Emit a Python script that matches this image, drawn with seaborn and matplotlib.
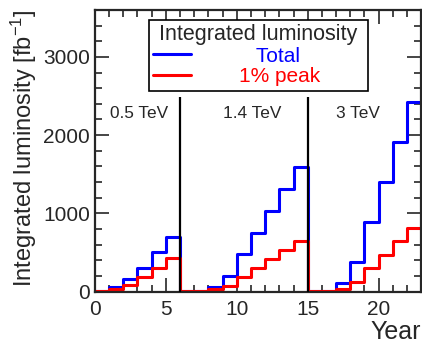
import numpy as np
import seaborn as sns
import matplotlib.pyplot as plt
from matplotlib.ticker import MultipleLocator

# yearly bins (edges), cumulative integrated luminosity per stage [fb^-1]
year_edges = list(range(0, 24))
total_lumi = [10, 55, 157, 306, 500, 700,
              5, 5, 64, 200, 480, 752, 1032, 1308, 1588,
              5, 5, 115, 374, 887, 1397, 1907, 2420]
peak_lumi = [5, 38, 85, 183, 297, 425,
             3, 3, 30, 76, 191, 306, 416, 535, 641,
             3, 3, 38, 119, 297, 467, 641, 815]
stage_ends = [6, 15]
stage_labels = ["0.5 TeV", "1.4 TeV", "3 TeV"]
stage_label_x = [3.1, 11.1, 18.55]

sns.set_style("ticks")
plt.rcParams['font.family'] = ['Liberation Sans', 'DejaVu Sans']
plt.rcParams['mathtext.fontset'] = 'custom'
plt.rcParams['mathtext.rm'] = 'Liberation Sans'
plt.rcParams['mathtext.it'] = 'Liberation Sans:italic'

fig = plt.figure(figsize=(4.22, 3.45), dpi=100)
ax = fig.add_axes([0.225, 0.155, 0.773, 0.816])

centres = [e + 0.5 for e in year_edges[:-1]]
sns.histplot(x=centres, weights=total_lumi, bins=year_edges, element='step',
             fill=False, color='#0000ff', linewidth=2.2, ax=ax, label='   Total')
sns.histplot(x=centres, weights=peak_lumi, bins=year_edges, element='step',
             fill=False, color='#ff0000', linewidth=2.2, ax=ax, label='1% peak')

ax.vlines(stage_ends, 0, 2490, color='black', linewidth=1.6, zorder=5)
for xt, lab in zip(stage_label_x, stage_labels):
    ax.text(xt, 2276, lab, ha='center', va='center', fontsize=12.4)

ax.set_xlim(0, 23)
ax.set_ylim(0, 3600)
ax.xaxis.set_major_locator(MultipleLocator(5))
ax.xaxis.set_minor_locator(MultipleLocator(1))
ax.yaxis.set_major_locator(MultipleLocator(1000))
ax.yaxis.set_minor_locator(MultipleLocator(200))
ax.tick_params(which='both', direction='in', top=True, right=True,
               labelsize=15, width=1.2)
ax.tick_params(which='major', length=10)
ax.tick_params(which='minor', length=5)
ax.tick_params(axis='x', pad=6)
for sp in ax.spines.values():
    sp.set_linewidth(1.6)

ax.set_xlabel("Year", fontsize=18, loc='right', labelpad=1)
ax.set_ylabel("Integrated luminosity [fb$^{-1}$]", fontsize=17, loc='top')
ax.yaxis.set_label_coords(-0.172, 1.0)

leg = ax.legend(loc='upper left', bbox_to_anchor=(0.166, 0.965, 0.671, 0.0),
                mode='expand', title="Integrated luminosity",
                title_fontsize=15.5, fontsize=15, labelcolor='linecolor',
                handlelength=1.8, handletextpad=2.3, fancybox=False,
                borderpad=0.2, labelspacing=0.08, borderaxespad=0)
leg.get_frame().set_edgecolor('black')
leg.get_frame().set_linewidth(1.2)
leg.get_frame().set_alpha(1)

fig.savefig("out.png", dpi=100)
